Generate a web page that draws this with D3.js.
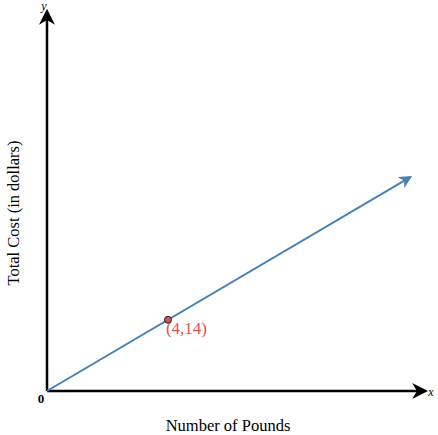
<!DOCTYPE html>
<html>
<head>
<meta charset="utf-8">
<script src="https://cdn.jsdelivr.net/npm/d3@7"></script>
<style>
  body { margin: 0; background: #fff; }
  text { font-family: "Liberation Serif", "DejaVu Serif", serif; }
</style>
</head>
<body>
<div id="chart"></div>
<script>
// data
var pounds = [0, 12],
	cost = [0, 42];
var pointX = [4],
	pointY = [14];
var pointLabels = ['(4,14)'];

var svgWidth = 438,
	svgHeight = 435;

var margin = { t: 12, r: 13, b: 44, l: 47 };

var width = svgWidth - margin.l - margin.r,
	height = svgHeight - margin.t - margin.b;

var svg = d3.select('#chart')
	.append('svg')
	.attr('width', svgWidth)
	.attr('height', svgHeight);

var defs = svg.append('defs');
// arrowheads
function arrow(id, color, size) {
	defs.append('marker')
		.attr('id', id)
		.attr('viewBox', '0 -5 10 10')
		.attr('refX', 8)
		.attr('refY', 0)
		.attr('markerWidth', size)
		.attr('markerHeight', size)
		.attr('markerUnits', 'userSpaceOnUse')
		.attr('orient', 'auto')
		.append('path')
		.attr('d', 'M0,-5L10,0L0,5L3,0Z')
		.attr('fill', color);
}
arrow('arrBlack', '#000', 16);
arrow('arrBlue', '#4682b4', 13);

var chartGroup = svg.append('g')
	.attr('transform', `translate(${margin.l},${margin.t})`);

var xScale = d3.scaleLinear().domain([0, 12.5]).range([0, width]);
var yScale = d3.scaleLinear().domain([0, 74.5]).range([height, 0]);

// axes
chartGroup.append('line')
	.attr('x1', 0).attr('y1', height)
	.attr('x2', xScale(12.5)).attr('y2', height)
	.attr('stroke', '#000').attr('stroke-width', 2.5)
	.attr('marker-end', 'url(#arrBlack)');

chartGroup.append('line')
	.attr('x1', 0).attr('y1', height)
	.attr('x2', 0).attr('y2', yScale(74.5))
	.attr('stroke', '#000').attr('stroke-width', 2.5)
	.attr('marker-end', 'url(#arrBlack)');

// cost line
var line = d3.line()
	.x(d => xScale(d[0]))
	.y(d => yScale(d[1]));

chartGroup.append('path')
	.datum(d3.zip(pounds, cost))
	.attr('d', line)
	.attr('fill', 'none')
	.attr('stroke', '#4682b4')
	.attr('stroke-width', 2)
	.attr('marker-end', 'url(#arrBlue)');

// point
var pts = d3.zip(pointX, pointY, pointLabels);
chartGroup.selectAll('circle')
	.data(pts)
	.enter()
	.append('circle')
	.attr('cx', d => xScale(d[0]))
	.attr('cy', d => yScale(d[1]))
	.attr('r', 3.5)
	.attr('fill', '#d9534f')
	.attr('stroke', '#222')
	.attr('stroke-width', 1);

chartGroup.selectAll('.ptLabel')
	.data(pts)
	.enter()
	.append('text')
	.attr('class', 'ptLabel')
	.attr('x', d => xScale(d[0]) - 2)
	.attr('y', d => yScale(d[1]) + 14)
	.attr('fill', '#d9534f')
	.style('font-size', '17px')
	.text(d => d[2]);

// axis letters
svg.append('text')
	.attr('x', 44).attr('y', 10)
	.style('font-size', '12px').style('font-style', 'italic')
	.attr('text-anchor', 'middle')
	.text('y');

svg.append('text')
	.attr('x', 431).attr('y', 396)
	.style('font-size', '12px').style('font-style', 'italic')
	.attr('text-anchor', 'middle')
	.text('x');

svg.append('text')
	.attr('x', 41).attr('y', 403)
	.style('font-size', '13px').style('font-weight', 'bold')
	.attr('text-anchor', 'middle')
	.text('0');

// axis titles
svg.append('text')
	.attr('x', 228).attr('y', 431)
	.attr('text-anchor', 'middle')
	.style('font-size', '16.5px')
	.text('Number of Pounds');

svg.append('text')
	.attr('transform', 'translate(19,213)rotate(-90)')
	.attr('text-anchor', 'middle')
	.style('font-size', '16.5px')
	.text('Total Cost (in dollars)');
</script>
</body>
</html>
